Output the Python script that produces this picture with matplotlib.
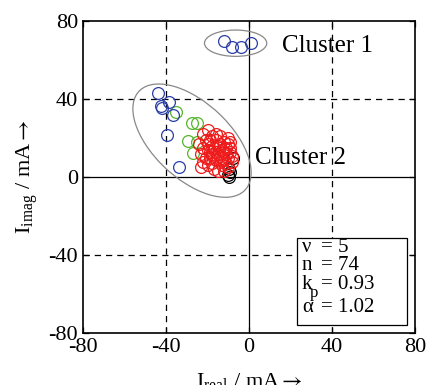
import matplotlib
matplotlib.use("Agg")
from matplotlib import pyplot as plt
from matplotlib.patches import Ellipse, Rectangle

plt.rcParams['font.family'] = ['Liberation Serif', 'DejaVu Serif']
plt.rcParams['mathtext.fontset'] = 'stix'
plt.rcParams['axes.unicode_minus'] = False

# cluster data (I_real, I_imag) in mA
blue_x = [-12, -8, -4, 1, -44, -38.6, -42, -42.5, -36.5, -39.5, -34]
blue_y = [70, 67, 67, 69, 43, 38.5, 35.5, 36.5, 32, 21.5, 5]
green_x = [-35, -27.5, -25, -29.4, -25, -27]
green_y = [33.5, 27.7, 27.7, 18.5, 18, 12.3]
red_x = [-22, -20, -18, -16, -14, -12, -10, -9, -20, -22, -23, -21, -19, -17, -15, -13,
         -11, -9, -10, -12, -14, -16, -18, -20, -22, -17, -15, -13, -11, -13, -15, -17,
         -19, -21, -19, -16, -14, -11, -9, -8, -10, -12, -24, -23, -18, -16, -14, -12,
         -20, -18, -10, -8]
red_y = [22, 24, 21, 19, 17, 18, 17, 18, 17, 15, 12, 10, 13, 15, 12, 14,
         12, 13, 10, 9, 8, 9, 7, 6, 8, 11, 16, 10, 7, 6, 3, 4,
         10, 19, 19, 22, 21, 15, 15, 11, 5, 3, 17, 5, 16, 13, 11, 13,
         14, 12, 20, 8]
black_x = [-7.7, -9.2, -9.6, -10, -9.5]
black_y = [9.7, 2.6, 0, 1, 4]

ticks = [-80, -40, 0, 40, 80]

fig = plt.figure(figsize=(4.28, 3.85), dpi=100)
ax = fig.add_axes([0.194, 0.135, 0.776, 0.81])

for t in [-40, 40]:
    ax.axvline(t, color='black', ls=(0, (5, 4)), lw=0.9, zorder=1)
    ax.axhline(t, color='black', ls=(0, (5, 4)), lw=0.9, zorder=1)
ax.axvline(0, color='black', lw=0.9, zorder=1)
ax.axhline(0, color='black', lw=0.9, zorder=1)

ms = 8.5
ax.plot(green_x, green_y, 'o', mfc='none', mec='#55b52a', ms=ms, mew=0.9, zorder=3)
ax.plot(red_x, red_y, 'o', mfc='none', mec='#ee1c1c', ms=ms, mew=0.9, zorder=4)
ax.plot(black_x, black_y, 'o', mfc='none', mec='black', ms=ms, mew=0.9, zorder=3)
ax.plot(blue_x, blue_y, 'o', mfc='none', mec='#2a3ea6', ms=ms, mew=0.9, zorder=3)

ax.add_patch(Ellipse((-6.5, 68.7), 30, 13.5, fill=False, ec='#888888', lw=0.9, zorder=2))
ax.add_patch(Ellipse((-27.5, 18.7), 72, 38, angle=-46, fill=False, ec='#888888', lw=0.9, zorder=2))

ax.text(16, 67.5, 'Cluster 1', fontsize=18, va='center', ha='left')
ax.text(3, 10, 'Cluster 2', fontsize=18, va='center', ha='left')

# parameter box
ax.add_patch(Rectangle((23, -76), 53, 45, fill=True, fc='white', ec='black', lw=0.9, zorder=5))
labels = ['ν', 'n', 'k', 'α']
values = ['= 5', '= 74', '= 0.93', '= 1.02']
ys = [-36, -45.6, -55, -67]
for lab, val, yy in zip(labels, values, ys):
    ax.text(25.5, yy, lab, fontsize=15, va='center', ha='left', zorder=6)
    ax.text(34.5, yy, val, fontsize=15, va='center', ha='left', zorder=6)
ax.text(29.3, -59.3, 'p', fontsize=12, va='center', ha='left', zorder=6)

ax.set_xlim(-80, 80)
ax.set_ylim(-80, 80)
ax.set_xticks(ticks)
ax.set_yticks(ticks)
ax.tick_params(direction='in', top=True, right=True, labelsize=16, length=4, width=0.9)
for s in ax.spines.values():
    s.set_linewidth(1.2)
ax.set_xlabel(r'I$_\mathregular{real}$ / mA$\rightarrow$', fontsize=16, labelpad=10)
ax.set_ylabel(r'I$_\mathregular{imag}$ / mA$\rightarrow$', fontsize=16, labelpad=6)

fig.savefig('out.png', dpi=100)
